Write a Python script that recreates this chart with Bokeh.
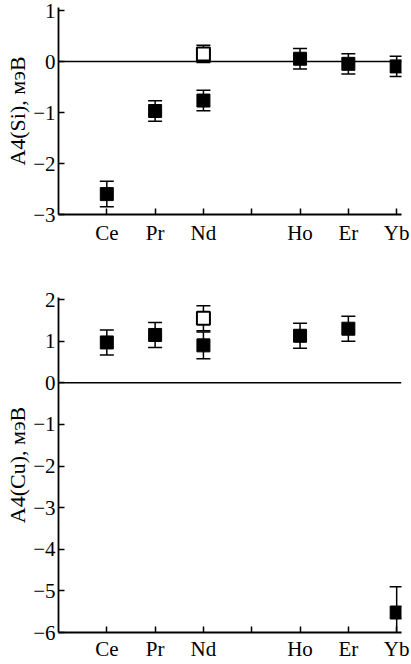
from bokeh.plotting import figure
from bokeh.models import ColumnDataSource, Whisker, TeeHead, Span, FixedTicker, Range1d
from bokeh.layouts import column
from bokeh.embed import file_html
from bokeh.resources import INLINE

# ---- data ----
elements = ["Ce", "Pr", "Nd", "Ho", "Er", "Yb"]
positions = [1, 2, 3, 5, 6, 7]

si_vals = [-2.60, -0.97, -0.765, 0.055, -0.045, -0.095]
si_err = [0.25, 0.20, 0.20, 0.20, 0.20, 0.20]
si_open_pos = [3]
si_open_vals = [0.15]
si_open_err = [0.17]

cu_vals = [0.97, 1.15, 0.90, 1.13, 1.30, -5.52]
cu_err = [0.30, 0.30, 0.32, 0.30, 0.30, 0.62]
cu_open_pos = [3]
cu_open_vals = [1.55]
cu_open_err = [0.30]

si_ticks = [1, 0, -1, -2, -3]
cu_ticks = [2, 1, 0, -1, -2, -3, -4, -5, -6]

FONT = "Liberation Serif"


def fmt(v):
    return str(v) if v >= 0 else "\u2212" + str(-v)


def make_panel(vals, errs, opos, ovals, oerrs, yticks, yrange, label,
               height, border_top, border_bottom, xstand):
    p = figure(width=410, height=height, output_backend="svg", toolbar_location=None,
               x_range=Range1d(0, 7.1), y_range=Range1d(*yrange),
               min_border_left=58, min_border_right=9,
               min_border_top=border_top, min_border_bottom=border_bottom)
    p.outline_line_color = None
    p.xgrid.visible = False
    p.ygrid.visible = False
    p.background_fill_color = "white"

    p.add_layout(Span(location=0, dimension="width", line_color="black", line_width=1.6))

    src = ColumnDataSource(dict(x=positions, y=vals,
                                up=[v + e for v, e in zip(vals, errs)],
                                lo=[v - e for v, e in zip(vals, errs)]))
    osrc = ColumnDataSource(dict(x=opos, y=ovals,
                                 up=[v + e for v, e in zip(ovals, oerrs)],
                                 lo=[v - e for v, e in zip(ovals, oerrs)]))
    for s in (src, osrc):
        w = Whisker(source=s, base="x", upper="up", lower="lo", dimension="height",
                    line_color="black", line_width=1.5,
                    upper_head=TeeHead(size=14, line_color="black", line_width=1.5),
                    lower_head=TeeHead(size=14, line_color="black", line_width=1.5))
        p.add_layout(w)

    p.scatter("x", "y", source=src, marker="square", size=13,
              fill_color="black", line_color="black", line_width=1)
    p.scatter("x", "y", source=osrc, marker="square", size=13,
              fill_color="white", line_color="black", line_width=2)

    # x axis
    xa = p.xaxis[0]
    xa.ticker = FixedTicker(ticks=[1, 2, 3, 4, 5, 6, 7])
    overrides = {pos: name for pos, name in zip(positions, elements)}
    overrides[4] = ""
    xa.major_label_overrides = overrides
    xa.major_tick_in = 6
    xa.major_tick_out = 0
    xa.minor_tick_line_color = None
    xa.axis_line_width = 1.8
    xa.major_tick_line_width = 1.5
    xa.major_label_text_font = FONT
    xa.major_label_text_font_size = "21px"
    xa.major_label_text_color = "black"
    xa.major_label_standoff = xstand

    # y axis
    ya = p.yaxis[0]
    ya.ticker = FixedTicker(ticks=yticks)
    ya.major_label_overrides = {t: fmt(t) for t in yticks}
    ya.major_tick_in = 6
    ya.major_tick_out = 0
    ya.minor_tick_line_color = None
    ya.axis_line_width = 1.8
    ya.major_tick_line_width = 1.5
    ya.major_label_text_font = FONT
    ya.major_label_text_font_size = "21px"
    ya.major_label_text_color = "black"
    ya.major_label_standoff = 3
    ya.axis_label = label
    ya.axis_label_text_font = FONT
    ya.axis_label_text_font_size = "22px"
    ya.axis_label_text_font_style = "normal"
    ya.axis_label_text_color = "black"
    ya.axis_label_standoff = 0
    return p


p1 = make_panel(si_vals, si_err, si_open_pos, si_open_vals, si_open_err,
                si_ticks, (-3, 1.06), "A4(Si), мэВ", 250, 7, 36, 6)
p2 = make_panel(cu_vals, cu_err, cu_open_pos, cu_open_vals, cu_open_err,
                cu_ticks, (-6, 2.05), "A4(Cu), мэВ", 413, 47, 29, 4)

layout = column(p1, p2)
open("out.html", "w").write(file_html(layout, INLINE))
